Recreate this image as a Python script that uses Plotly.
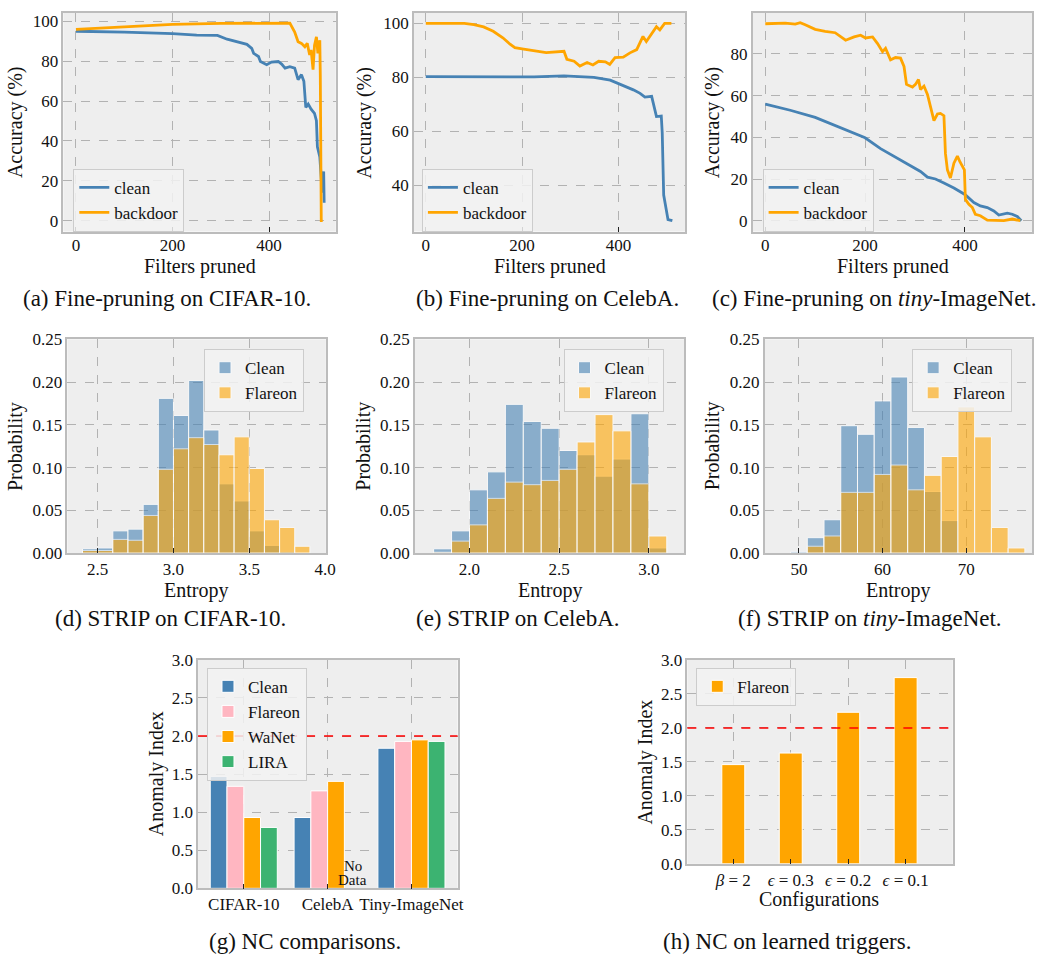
import plotly.graph_objects as go

W, H = 1042, 965
FONT = "Liberation Serif"

# ---------------- data ----------------
# (a) Fine-pruning on CIFAR-10
a_x_clean = [0, 50, 100, 150, 200, 250, 293, 313, 334, 354, 364, 368, 378, 382, 395, 405, 419, 426, 433,
             443, 453, 460, 467, 472, 476, 481, 487, 494, 498, 500, 505, 507, 510, 513, 514]
a_y_clean = [95.1, 95.0, 94.7, 94.3, 93.9, 93.1, 93.0, 91.1, 89.8, 88.5, 86.5, 84.0, 82.4, 79.9, 78.3, 79.6,
             79.9, 78.6, 76.6, 77.3, 76.6, 70.8, 73.3, 70.0, 56.8, 58.5, 56.0, 53.9, 50.2, 37.0, 32.0, 23.9,
             14.0, 24.7, 9.0]
a_x_back = [0, 100, 200, 300, 443, 453, 460, 467, 474, 479, 484, 487, 491, 494, 498, 501, 505, 506, 508, 511]
a_y_back = [96.0, 97.2, 98.5, 99.0, 99.2, 94.7, 89.8, 89.0, 87.3, 89.0, 83.2, 85.7, 75.8, 88.0, 92.3, 84.0,
            90.6, 73.3, 0.0, 0.0]

# (b) Fine-pruning on CelebA
b_x_clean = [0, 100, 225, 287, 349, 383, 400, 417, 431, 445, 455, 469, 475, 479, 489, 491, 494, 499, 503, 512]
b_y_clean = [80.3, 80.2, 80.2, 80.6, 80.0, 79.0, 77.8, 76.4, 75.4, 74.1, 72.7, 73.0, 69.1, 65.5, 65.7, 59.4,
             36.4, 30.3, 27.3, 26.9]
b_x_back = [0, 80, 100, 120, 140, 160, 175, 185, 200, 225, 250, 287, 293, 308, 320, 335, 347, 359, 373, 382,
            393, 410, 424, 438, 446, 451, 458, 469, 479, 486, 496, 510]
b_y_back = [100, 100, 99.6, 98.7, 97.1, 94.7, 92.3, 91.0, 90.6, 89.8, 89.2, 89.7, 86.7, 86.0, 84.2, 85.5,
            84.6, 86.0, 85.8, 84.8, 87.3, 87.5, 89.1, 90.3, 93.3, 95.2, 93.3, 96.4, 98.8, 97.6, 100, 100]

# (c) Fine-pruning on tiny-ImageNet
c_x_clean = [0, 50, 100, 151, 200, 231, 265, 291, 311, 325, 341, 358, 378, 400, 418, 431, 445, 458, 468,
             485, 495, 505, 513]
c_y_clean = [55.9, 53.0, 49.6, 44.5, 39.8, 34.6, 29.9, 26.3, 23.6, 20.9, 20.0, 18.1, 15.7, 12.6, 8.7, 7.1,
             6.3, 4.7, 2.7, 3.6, 3.1, 2.0, 0.0]
c_x_back = [0, 20, 40, 60, 70, 80, 100, 120, 140, 161, 178, 191, 201, 215, 225, 235, 241, 251, 261, 271,
            278, 283, 295, 301, 307, 311, 318, 325, 331, 338, 345, 351, 358, 361, 365, 371, 378, 385, 390,
            395, 399, 401, 408, 415, 421, 431, 445, 478, 495, 511]
c_y_back = [94.5, 94.5, 94.8, 94.3, 95.0, 94.0, 91.8, 90.9, 90.2, 86.6, 88.2, 89.0, 87.7, 88.2, 85.0, 81.1,
            82.7, 77.2, 78.3, 78.0, 74.0, 65.4, 64.1, 65.4, 67.7, 63.0, 64.6, 60.6, 54.3, 48.0, 51.2, 51.5,
            50.4, 32.3, 24.4, 20.5, 27.6, 31.0, 28.3, 26.0, 24.4, 10.2, 7.9, 6.3, 3.1, 2.4, 0.3, 0.0, 0.8, 0.0]

# (d) STRIP on CIFAR-10 (bin left edges, width 0.1)
d_bins = [2.4, 2.5, 2.6, 2.7, 2.8, 2.9, 3.0, 3.1, 3.2, 3.3, 3.4, 3.5, 3.6, 3.7, 3.8]
d_clean = [0.005, 0.006, 0.026, 0.028, 0.057, 0.181, 0.161, 0.202, 0.144, 0.081, 0.061, 0.026, 0.009, 0.002, 0.0]
d_flareon = [0.003, 0.003, 0.016, 0.015, 0.044, 0.098, 0.122, 0.135, 0.127, 0.115, 0.136, 0.099, 0.039, 0.030, 0.008]

# (e) STRIP on CelebA (bin left edges, width 0.1)
e_bins = [1.8, 1.9, 2.0, 2.1, 2.2, 2.3, 2.4, 2.5, 2.6, 2.7, 2.8, 2.9, 3.0]
e_clean = [0.005, 0.026, 0.074, 0.095, 0.174, 0.154, 0.146, 0.120, 0.115, 0.090, 0.110, 0.163, 0.006]
e_flareon = [0.001, 0.014, 0.033, 0.064, 0.083, 0.080, 0.085, 0.098, 0.130, 0.162, 0.143, 0.081, 0.020]

# (f) STRIP on tiny-ImageNet (bin left edges, width 2)
f_bins = [49, 51, 53, 55, 57, 59, 61, 63, 65, 67, 69, 71, 73, 75]
f_clean = [0.002, 0.018, 0.039, 0.149, 0.139, 0.178, 0.206, 0.147, 0.072, 0.038, 0.0, 0.0, 0.0, 0.0]
f_flareon = [0.0, 0.008, 0.020, 0.071, 0.071, 0.092, 0.103, 0.074, 0.091, 0.113, 0.171, 0.136, 0.030, 0.006]

# (g) NC comparisons
g_groups = ["CIFAR-10", "CelebA", "Tiny-ImageNet"]
g_clean = [1.47, 0.93, 1.84]
g_flareon = [1.34, 1.28, 1.93]
g_wanet = [0.93, 1.405, 1.95]
g_lira = [0.80, None, 1.93]

# (h) NC on learned triggers
h_configs = ["<i>β</i> = 2", "<i>ϵ</i> = 0.3", "<i>ϵ</i> = 0.2", "<i>ϵ</i> = 0.1"]
h_flareon = [1.46, 1.63, 2.23, 2.74]

threshold = 2.0

# ---------------- styling ----------------
BLUE = "#4682B4"
ORANGE = "#FFA500"
PINK = "#FFB6C1"
GREEN = "#3CB371"

fig = go.Figure()

# panel boxes in pixels: (left, top, right, bottom)
boxes = {
    1: (64, 4, 339, 227),
    2: (418, 4, 692, 227),
    3: (760, 4, 1042, 227),
    4: (68, 337, 329, 555),
    5: (419, 337, 691, 555),
    6: (772, 337, 1042, 555),
    7: (200, 664, 462, 897),
    8: (694, 664, 962, 872),
}
xranges = {1: [-26, 538], 2: [-24.5, 539], 3: [-25.2, 534.5], 4: [2.30, 4.005], 5: [1.696, 3.198],
           6: [45.9, 77.85], 7: [-0.545, 2.55], 8: [-0.8, 3.82]}
yranges = {1: [-5.5, 104.3], 2: [22.9, 103.9], 3: [-5.2, 99.7], 4: [0, 0.25], 5: [0, 0.25], 6: [0, 0.25],
           7: [0, 3.0], 8: [0, 3.0]}
xticks = {1: [0, 200, 400], 2: [0, 200, 400], 3: [0, 200, 400], 4: [2.5, 3.0, 3.5, 4.0], 5: [2.0, 2.5, 3.0],
          6: [50, 60, 70]}
xfmt = {1: "d", 2: "d", 3: "d", 4: ".1f", 5: ".1f", 6: "d"}
yticks = {1: [0, 20, 40, 60, 80, 100], 2: [40, 60, 80, 100], 3: [0, 20, 40, 60, 80],
          4: [0, 0.05, 0.10, 0.15, 0.20, 0.25], 5: [0, 0.05, 0.10, 0.15, 0.20, 0.25],
          6: [0, 0.05, 0.10, 0.15, 0.20, 0.25], 7: [0, 0.5, 1.0, 1.5, 2.0, 2.5, 3.0],
          8: [0, 0.5, 1.0, 1.5, 2.0, 2.5, 3.0]}
yfmt = {1: "d", 2: "d", 3: "d", 4: ".2f", 5: ".2f", 6: ".2f", 7: ".1f", 8: ".1f"}

tickfont = dict(family=FONT, size=17, color="#111")
layout = {}
for i, (l, t, r, b) in boxes.items():
    sfx = "" if i == 1 else str(i)
    xa = dict(domain=[l / W, r / W], anchor="y" + sfx, range=xranges[i], showline=True, mirror=True,
              linecolor="#bcbcbc", linewidth=1.5, showgrid=True, gridcolor="#b2b2b2", griddash="dash",
              gridwidth=0.8, zeroline=False, ticks="inside", ticklen=5, tickcolor="#222", tickwidth=1,
              tickfont=tickfont)
    if i in xticks:
        xa.update(tickmode="array", tickvals=xticks[i], tickformat=xfmt[i])
    if i in (1, 2, 3):
        xa.update(ticklabelstandoff=-3)
    ya = dict(domain=[1 - b / H, 1 - t / H], anchor="x" + sfx, range=yranges[i], showline=True, mirror=True,
              linecolor="#bcbcbc", linewidth=1.5, showgrid=True, gridcolor="#b2b2b2", griddash="dash",
              gridwidth=0.8, zeroline=False, ticks="", tickfont=tickfont,
              tickmode="array", tickvals=yticks[i], tickformat=yfmt[i])
    layout["xaxis" + sfx] = xa
    layout["yaxis" + sfx] = ya


def ax(i):
    return ("x" if i == 1 else "x%d" % i), ("y" if i == 1 else "y%d" % i)


def leg_name(i):
    return "legend" if i == 1 else "legend%d" % i


# line panels
for i, (xc, yc, xb, yb) in {1: (a_x_clean, a_y_clean, a_x_back, a_y_back),
                             2: (b_x_clean, b_y_clean, b_x_back, b_y_back),
                             3: (c_x_clean, c_y_clean, c_x_back, c_y_back)}.items():
    xa, ya = ax(i)
    fig.add_trace(go.Scatter(x=xc, y=yc, mode="lines", name="clean", line=dict(color=BLUE, width=2.8),
                             xaxis=xa, yaxis=ya, legend=leg_name(i)))
    fig.add_trace(go.Scatter(x=xb, y=yb, mode="lines", name="backdoor", line=dict(color=ORANGE, width=2.8),
                             xaxis=xa, yaxis=ya, legend=leg_name(i)))

# histogram panels
for i, (bins, bw, cl, fl) in {4: (d_bins, 0.1, d_clean, d_flareon),
                              5: (e_bins, 0.1, e_clean, e_flareon),
                              6: (f_bins, 2, f_clean, f_flareon)}.items():
    xa, ya = ax(i)
    fig.add_trace(go.Bar(x=bins, y=cl, width=bw, offset=0, name="Clean", opacity=0.6,
                         marker=dict(color=BLUE, line=dict(color="white", width=1)),
                         xaxis=xa, yaxis=ya, legend=leg_name(i)))
    fig.add_trace(go.Bar(x=bins, y=fl, width=bw, offset=0, name="Flareon", opacity=0.6,
                         marker=dict(color=ORANGE, line=dict(color="white", width=1)),
                         xaxis=xa, yaxis=ya, legend=leg_name(i)))

# (g) grouped bars
for name, vals, col, off in [("Clean", g_clean, BLUE, -0.4), ("Flareon", g_flareon, PINK, -0.2),
                             ("WaNet", g_wanet, ORANGE, 0.0), ("LIRA", g_lira, GREEN, 0.2)]:
    fig.add_trace(go.Bar(x=g_groups, y=vals, width=0.2, offset=off, name=name,
                         marker=dict(color=col, line=dict(color="white", width=1)),
                         xaxis="x7", yaxis="y7", legend="legend7"))

# (h) bars
fig.add_trace(go.Bar(x=h_configs, y=h_flareon, width=0.4, name="Flareon",
                     marker=dict(color=ORANGE, line=dict(color="white", width=1)),
                     xaxis="x8", yaxis="y8", legend="legend8"))

# legends
leg_pos = {1: (74, 163), 2: (426, 163), 3: (770, 163), 4: (206, 347), 5: (569, 347), 6: (921, 347),
           7: (209, 672), 8: (703, 672)}
for i, (lx, ly) in leg_pos.items():
    layout[leg_name(i)] = dict(x=lx / W, y=1 - ly / H, xanchor="left", yanchor="top",
                               bgcolor="rgba(242,242,242,0.85)", bordercolor="#cccccc", borderwidth=1,
                               font=dict(family=FONT, size=17, color="#111"), tracegroupgap=0,
                               traceorder="normal")

annotations = []


def txt(text, x, y, size=20, angle=0):
    annotations.append(dict(text=text, x=x / W, y=1 - y / H, xref="paper", yref="paper", showarrow=False,
                            xanchor="center", yanchor="middle", textangle=angle,
                            font=dict(family=FONT, size=size, color="#111")))


# axis titles
for x in (201.5, 555, 902):
    txt("Filters pruned", x, 263)
for x in (198, 555, 907):
    txt("Entropy", x, 593)
txt("Configurations", 827, 908)
for x in (15, 368, 719):
    txt("Accuracy (%)", x, 115.5, angle=-90)
for x in (15, 367, 719):
    txt("Probability", x, 446, angle=-90)
txt("Anomaly Index", 158, 780, angle=-90)
txt("Anomaly Index", 652, 768, angle=-90)

# captions
txt("(a) Fine-pruning on CIFAR-10.", 169, 295, size=23)
txt("(b) Fine-pruning on CelebA.", 553, 295, size=23)
txt("(c) Fine-pruning on <i>tiny</i>-ImageNet.", 882, 295, size=23)
txt("(d) STRIP on CIFAR-10.", 172, 622, size=23)
txt("(e) STRIP on CelebA.", 523, 622, size=23)
txt("(f) STRIP on <i>tiny</i>-ImageNet.", 878, 622, size=23)
txt("(g) NC comparisons.", 307.5, 951.5, size=23)
txt("(h) NC on learned triggers.", 795, 951.5, size=23)

# "No Data" marker in (g)
for word, yy in (("No", 874), ("Data", 889)):
    annotations.append(dict(text=word, x=1, xref="x7", y=1 - yy / H, yref="paper", xshift=0.3 * 84.5,
                            showarrow=False, xanchor="center", yanchor="middle",
                            font=dict(family=FONT, size=15, color="#111")))

shapes = []
for xr, yr in (("x7 domain", "y7"), ("x8 domain", "y8")):
    shapes.append(dict(type="line", xref=xr, x0=0, x1=1, yref=yr, y0=threshold, y1=threshold,
                       line=dict(color="red", width=1.5, dash="dash")))

fig.update_layout(width=W, height=H, margin=dict(l=0, r=0, t=0, b=0), autosize=False,
                  paper_bgcolor="white", plot_bgcolor="#eeeeee", barmode="overlay",
                  font=dict(family=FONT, size=17, color="#111"),
                  annotations=annotations, shapes=shapes, **layout)

fig.write_html("out.html", config={"displayModeBar": False},
               post_script="document.body.style.margin='0';document.body.style.overflow='hidden';")
